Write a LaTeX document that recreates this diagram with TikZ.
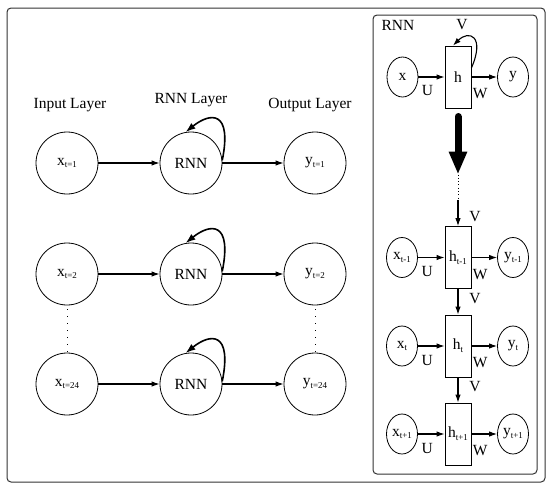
\documentclass[tikz,border=0pt]{standalone}
\usepackage{fontspec}
\setmainfont{Liberation Serif}
\usetikzlibrary{positioning,shapes.geometric,arrows.meta}
\newcommand{\tsub}[2]{#1\raisebox{-0.4ex}{\fontsize{9}{10}\selectfont #2}}

\begin{document}
\begin{tikzpicture}[x=1pt, y=-1pt, >={Latex[length=8pt,width=5.5pt]}, node distance=124pt, on grid,
  font=\fontsize{15.5}{17}\selectfont,
  neuron/.style={draw, circle, line width=0.8pt, minimum size=62pt, inner sep=0pt},
  cell/.style={draw, rectangle, line width=0.8pt, minimum width=26pt, minimum height=62pt, inner sep=0pt},
  unit/.style={draw, ellipse, line width=0.8pt, minimum width=31pt, minimum height=40pt, inner sep=0pt},
  conn/.style={->, line width=1.1pt},
  selfloop/.style={->, line width=1.6pt, >={Latex[length=10pt,width=7pt]}},
  frame/.style={draw=black!80, line width=1pt, rounded corners=4pt}]
\useasboundingbox (0,0) rectangle (550,491);
\draw[frame] (7,8) rectangle (545,482);
\draw[frame] (373,15) rectangle (537,474);

% unrolled network
\node[neuron] (x1) at (67,163) {\tsub{x}{t=1}};
\node[neuron, right=of x1] (r1) {RNN};
\node[neuron, right=of r1] (y1) {\tsub{y}{t=1}};
\node[neuron, below=111pt of x1] (x2) {\tsub{x}{t=2}};
\node[neuron, right=of x2] (r2) {RNN};
\node[neuron, right=of r2] (y2) {\tsub{y}{t=2}};
\node[neuron, below=110pt of x2] (x3) {\tsub{x}{t=24}};
\node[neuron, right=of x3] (r3) {RNN};
\node[neuron, right=of r3] (y3) {\tsub{y}{t=24}};

\node[above=58pt of x1, xshift=3pt] (inlab) {Input Layer};
\node[above=63pt of r1] (rnnlab) {RNN Layer};
\node[above=58pt of y1, xshift=-5pt] (outlab) {Output Layer};

\foreach \i in {1,2,3} {
  \draw[conn] (x\i) -- (r\i);
  \draw[conn] (r\i) -- (y\i);
  \draw[selfloop] (r\i.5) .. controls +(10,-50) and +(25,-20) .. (r\i.100);
}
\draw[line width=1pt, dash pattern=on 1pt off 6pt, shorten <=4pt] (x2) -- (x3);
\draw[line width=1pt, dash pattern=on 1pt off 6pt, shorten <=4pt] (y2) -- (y3);

% folded cell
\node (panel) at (398,25) {RNN};
\node[cell] (h) at (458,77) {h};
\node[unit, left=55.5pt of h] (x) {x};
\node[unit, right=55pt of h] (y) {y};
\node (vtop) at (462,25) {V};
\draw[conn] (x) -- node[midway, xshift=-4pt, yshift=-13pt] {U} (h);
\draw[conn] (h) -- node[midway, xshift=-4pt, yshift=-17pt] {W} (y);
\draw[conn] ([yshift=9pt]h.east) .. controls +(14,-32) and +(16,-16) .. ([xshift=-5pt]h.north);

% unfolded cells
\node[cell, below=180.5pt of h] (ha) {\tsub{h}{t-1}};
\node[unit, left=56pt of ha] (xa) {\tsub{x}{t-1}};
\node[unit, right=55pt of ha] (ya) {\tsub{y}{t-1}};
\node[cell, below=88.5pt of ha] (hb) {\tsub{h}{t}};
\node[unit, left=56pt of hb] (xb) {\tsub{x}{t}};
\node[unit, right=55pt of hb] (yb) {\tsub{y}{t}};
\node[cell, below=88pt of hb] (hc) {\tsub{h}{t+1}};
\node[unit, left=56pt of hc] (xc) {\tsub{x}{t+1}};
\node[unit, right=55pt of hc] (yc) {\tsub{y}{t+1}};

\foreach \n in {a,b,c} {
  \draw[conn] (x\n) -- node[midway, xshift=-4pt, yshift=-14pt] {U} (h\n);
  \draw[conn] (h\n) -- node[midway, xshift=-4pt, yshift=-17pt] {W} (y\n);
}
\draw[conn] (ha) -- node[midway, xshift=17pt, yshift=3pt] {V} (hb);
\draw[conn] (hb) -- node[midway, xshift=17pt, yshift=3pt] {V} (hc);

% unfolding arrow
\coordinate (bigtop) at (458,116.5);
\coordinate (bigend) at (458,174.5);
\coordinate (gap) at (458,200);
\draw[line width=7pt, line cap=round, -{Triangle[width=17pt,length=23pt]}] (bigtop) -- (bigend);
\draw[line width=0.7pt, dash pattern=on 0.8pt off 2.5pt] (bigend) -- (gap);
\draw[conn] (gap) -- node[midway, xshift=17pt, yshift=-3pt] {V} (ha);
\end{tikzpicture}
\end{document}
